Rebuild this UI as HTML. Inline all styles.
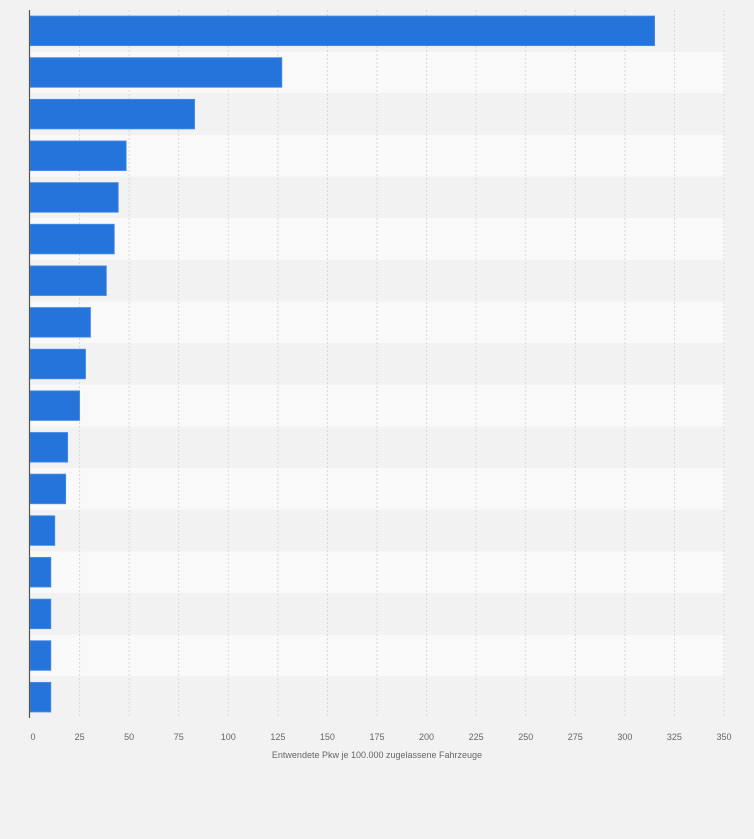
<!DOCTYPE html>
<html><head><meta charset="utf-8"><style>
body{margin:0;background:#f2f2f2;font-family:"Liberation Sans",sans-serif;}
svg{display:block}
</style></head><body>
<svg id="chart" width="754" height="839" xmlns="http://www.w3.org/2000/svg">
<rect x="0" y="0" width="754" height="839" fill="#f2f2f2"/>
<g id="bands"></g><g id="grid"></g><g id="bars"></g><g id="ticks"></g>
<line x1="29.5" y1="10" x2="29.5" y2="718" stroke="#555" stroke-width="1.2"/>
<text x="377" y="758" font-size="9" fill="#666" text-anchor="middle">Entwendete Pkw je 100.000 zugelassene Fahrzeuge</text>
</svg>
<script>
const values=[315,127,83,48.5,44.5,42.5,38.5,30.5,28,25,19,18,12.5,10.5,10.5,10.5,10.5];
const tickLabels=["0","25","50","75","100","125","150","175","200","225","250","275","300","325","350"];
const tickValues=[0,25,50,75,100,125,150,175,200,225,250,275,300,325,350];
const NS="http://www.w3.org/2000/svg";
const x0=30,x1=724,plotTop=10,plotBottom=718;
const xs=v=>x0+v*(x1-x0)/350;
const rowH=(plotBottom-plotTop)/values.length;
function mk(t,a,p){const e=document.createElementNS(NS,t);for(const k in a)e.setAttribute(k,a[k]);document.getElementById(p).appendChild(e);return e;}
values.forEach((v,i)=>{
  const b=mk('rect',{x:x0,y:plotTop+i*rowH,width:x1-x0+1,height:rowH,fill:i%2?'#f9f9f9':'#f2f2f2'},'bands');
  
  
});
tickValues.forEach((t,i)=>{
  if(t>0){const g=mk('line',{x1:xs(t),x2:xs(t),y1:plotTop,y2:plotBottom,stroke:'#d8d8d8','stroke-dasharray':'2,2'},'grid');
  
  }
  const tx=mk('text',{x:xs(t)+(i===0?3:0),y:740,'font-size':9,fill:'#666','text-anchor':'middle'},'ticks');
  tx.textContent=tickLabels[i];
  
  
});
values.forEach((v,i)=>{
  const r=mk('rect',{x:x0,y:plotTop+i*rowH+6,width:xs(v)-x0,height:rowH-12,fill:'#2574dc',stroke:'#4a8ee6','stroke-width':0.8},'bars');
  
  
});
</script>
</body></html>
